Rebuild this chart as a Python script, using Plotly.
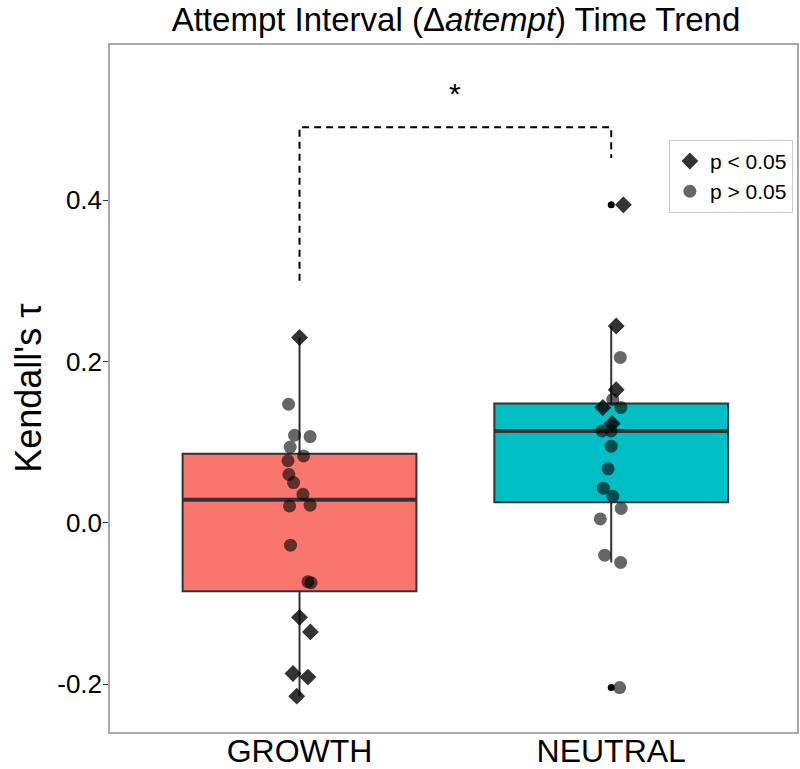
import numpy as np
import plotly.graph_objects as go

# ---------------- data ----------------
categories = ["GROWTH", "NEUTRAL"]
cat_pos = [1, 2]
box_colors = ["#F8766D", "#00BFC4"]

growth_tau = [0.2296, 0.147, 0.1086, 0.107, 0.094, 0.083, 0.077, 0.060, 0.050, 0.0355,
              0.021, 0.022, -0.0276, -0.073, -0.074, -0.117, -0.135, -0.1865, -0.191, -0.2146]
growth_sig = [1, 0, 0, 0, 0, 0, 0, 0, 0, 0, 0, 0, 0, 0, 0, 1, 1, 1, 1, 1]
growth_jitter = [0.0, -0.035, -0.016, 0.034, -0.030, 0.013, -0.037, -0.034, -0.019, 0.011,
                 -0.032, 0.034, -0.029, 0.027, 0.037, 0.0, 0.035, -0.021, 0.027, -0.009]

neutral_tau = [0.394, 0.244, 0.205, 0.165, 0.153, 0.143, 0.143, 0.123, 0.114, 0.114,
               0.095, 0.067, 0.043, 0.033, 0.018, 0.005, -0.040, -0.049, -0.204]
neutral_sig = [1, 1, 0, 1, 0, 1, 0, 1, 0, 0, 0, 0, 0, 0, 0, 0, 0, 0, 0]
neutral_jitter = [0.039, 0.016, 0.029, 0.016, 0.005, -0.027, 0.031, 0.003, -0.029, 0.0,
                  0.0, -0.010, -0.025, 0.005, 0.032, -0.035, -0.021, 0.030, 0.027]

y_tick_vals = [-0.2, 0.0, 0.2, 0.4]
y_tick_text = ["-0.2", "0.0", "0.2", "0.4"]
legend_names = ["p < 0.05", "p > 0.05"]

# significance bracket between groups
bracket_left_low = 0.30
bracket_top = 0.49
bracket_right_low = 0.452
star_y = 0.532
star_text = "*"

# ---------------- figure ----------------
FONT = "Liberation Sans"
fig = go.Figure()

groups = [
    (cat_pos[0], growth_tau, growth_sig, growth_jitter, box_colors[0]),
    (cat_pos[1], neutral_tau, neutral_sig, neutral_jitter, box_colors[1]),
]

BOX_W = 0.75
outlier_x, outlier_y = [], []
for pos, vals, sig, jit, col in groups:
    arr = np.array(vals)
    q1, med, q3 = np.percentile(arr, [25, 50, 75])
    iqr = q3 - q1
    lo = arr[arr >= q1 - 1.5 * iqr].min()
    hi = arr[arr <= q3 + 1.5 * iqr].max()
    fig.add_trace(go.Box(
        x=[pos], q1=[q1], median=[med], q3=[q3], lowerfence=[lo], upperfence=[hi],
        width=BOX_W, whiskerwidth=0, fillcolor=col,
        line=dict(color="#333333", width=2), boxpoints=False,
        showlegend=False, hoverinfo="skip",
    ))
    # thicker median line
    fig.add_trace(go.Scatter(
        x=[pos - BOX_W / 2, pos + BOX_W / 2], y=[med, med], mode="lines",
        line=dict(color="#333333", width=4), showlegend=False, hoverinfo="skip",
    ))
    out = arr[(arr < q1 - 1.5 * iqr) | (arr > q3 + 1.5 * iqr)]
    outlier_x += [pos] * len(out)
    outlier_y += list(out)

# boxplot outliers (small black dots)
fig.add_trace(go.Scatter(
    x=outlier_x, y=outlier_y, mode="markers",
    marker=dict(color="black", size=7), showlegend=False, hoverinfo="skip",
))

# jittered points
dx, dy, cx, cy = [], [], [], []
for pos, vals, sig, jit, col in groups:
    for v, s, j in zip(vals, sig, jit):
        if s:
            dx.append(pos + j); dy.append(v)
        else:
            cx.append(pos + j); cy.append(v)

fig.add_trace(go.Scatter(
    x=dx, y=dy, mode="markers", name=legend_names[0],
    marker=dict(symbol="diamond", size=13, color="rgba(0,0,0,0.8)", line=dict(width=0)),
))
fig.add_trace(go.Scatter(
    x=cx, y=cy, mode="markers", name=legend_names[1],
    marker=dict(symbol="circle", size=13, color="rgba(0,0,0,0.6)", line=dict(width=0)),
))

# bracket
fig.add_trace(go.Scatter(
    x=[cat_pos[0], cat_pos[0], cat_pos[1], cat_pos[1]],
    y=[bracket_left_low, bracket_top, bracket_top, bracket_right_low],
    mode="lines", line=dict(color="black", width=2, dash="7px,5px"),
    showlegend=False, hoverinfo="skip",
))
fig.add_annotation(
    x=(cat_pos[0] + cat_pos[1]) / 2, y=star_y, text=star_text, showarrow=False,
    font=dict(family=FONT, size=30, color="black"), xanchor="center", yanchor="middle",
)

# y-axis title as rotated annotation
fig.add_annotation(
    xref="paper", yref="paper", x=-0.119, y=0.5, text="Kendall's τ", textangle=-90,
    showarrow=False, font=dict(family=FONT, size=36, color="black"),
    xanchor="center", yanchor="middle",
)

fig.update_layout(
    width=800, height=769,
    margin=dict(l=110, r=3, t=45, b=37, autoexpand=False),
    paper_bgcolor="white", plot_bgcolor="white",
    font=dict(family=FONT, color="black"),
    title=dict(
        text="Attempt Interval (Δ<i>attempt</i>) Time Trend",
        x=0.57, xanchor="center", y=0.975, yanchor="middle", yref="container",
        font=dict(family=FONT, size=33, color="black"),
    ),
    xaxis=dict(
        range=[0.392, 2.596], tickvals=cat_pos, ticktext=categories,
        showline=True, mirror=True, linecolor="#a9a9a9", linewidth=1.5,
        showgrid=False, zeroline=False, ticks="", automargin=False,
        ticklabelstandoff=-10,
        tickfont=dict(family=FONT, size=32, color="black"),
    ),
    yaxis=dict(
        range=[-0.259, 0.592], tickvals=y_tick_vals, ticktext=y_tick_text,
        showline=True, mirror=True, linecolor="#a9a9a9", linewidth=1.5,
        showgrid=False, zeroline=False, ticks="outside", ticklen=5,
        tickcolor="#333333", tickwidth=1.2, automargin=False,
        ticklabelstandoff=-4,
        tickfont=dict(family=FONT, size=26, color="black"),
    ),
    showlegend=True,
    legend=dict(
        x=0.994, y=0.862, xanchor="right", yanchor="top",
        bgcolor="white", bordercolor="#cccccc", borderwidth=1,
        font=dict(family=FONT, size=21, color="black"),
        tracegroupgap=0,
    ),
)

post = (
    "document.body.style.margin='0';"
    "document.body.style.padding='0';"
    "document.documentElement.style.overflow='hidden';"
    "document.body.style.overflow='hidden';"
)
fig.write_html("out.html", post_script=post,
               config={"displayModeBar": False, "responsive": False})
